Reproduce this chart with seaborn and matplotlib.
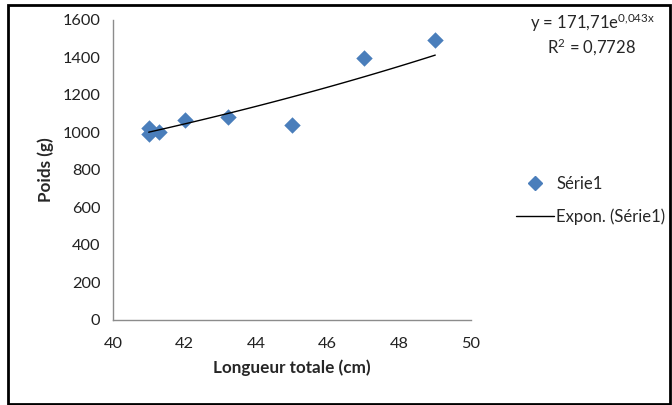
import numpy as np
import pandas as pd
import matplotlib
matplotlib.use("Agg")
import matplotlib.pyplot as plt
import seaborn as sns
from matplotlib.lines import Line2D
from matplotlib.patches import Rectangle

# Data
longueur = [41.0, 41.0, 41.3, 42.0, 43.2, 45.0, 47.0, 49.0]
poids = [1025, 990, 1000, 1065, 1080, 1040, 1395, 1495]
coef_a = 171.71
coef_b = 0.043
r2_text = "0,7728"
x_ticks = [40, 42, 44, 46, 48, 50]
y_ticks = [0, 200, 400, 600, 800, 1000, 1200, 1400, 1600]

sns.set_style("white")
plt.rcParams['font.family'] = ['Lato', 'DejaVu Sans']
plt.rcParams['mathtext.default'] = 'regular'

fig = plt.figure(figsize=(6.72, 4.05), dpi=100)
ax = fig.add_axes([0.168, 0.210, 0.533, 0.741])

df = pd.DataFrame({"Longueur": longueur, "Poids": poids})
sns.scatterplot(data=df, x="Longueur", y="Poids", marker="D", s=70,
                color="#4a7ebb", edgecolor="#4a7ebb", linewidth=0, ax=ax, zorder=3)

xt = np.linspace(min(longueur), max(longueur), 100)
yt = coef_a * np.exp(coef_b * xt)
sns.lineplot(x=xt, y=yt, color="black", linewidth=1.0, ax=ax, zorder=4)

ax.set_xlim(40, 50)
ax.set_ylim(0, 1600)
ax.set_xticks(x_ticks)
ax.set_yticks(y_ticks)
ax.tick_params(axis='both', length=0, labelsize=11.8, colors='#222222')
ax.tick_params(axis='x', pad=12)
ax.tick_params(axis='y', pad=9)
for s in ['top', 'right']:
    ax.spines[s].set_visible(False)
for s in ['left', 'bottom']:
    ax.spines[s].set_color('#8c8c8c')
    ax.spines[s].set_linewidth(1.0)
ax.set_xlabel("Longueur totale (cm)", fontsize=12.3, fontweight='bold', labelpad=6)
ax.set_ylabel("Poids (g)", fontsize=12.3, fontweight='bold', labelpad=6)

# Equation
fig.text(0.882, 0.943, r"y = 171,71e$^{0{,}043x}$", ha='center', va='center', fontsize=12)
fig.text(0.880, 0.883, r"R$^{2}$ = " + r2_text, ha='center', va='center', fontsize=12)

# Legend
handles = [Line2D([], [], marker='D', color='#4a7ebb', linestyle='None', markersize=7),
           Line2D([], [], color='black', linewidth=1.0)]
fig.legend(handles, ["Série1", "Expon. (Série1)"], loc='center left',
           bbox_to_anchor=(0.745, 0.505), frameon=False, fontsize=12,
           handlelength=2.3, handletextpad=0.15, labelspacing=1.0)

# Outer border
fig.patches.append(Rectangle((0.012, 0.003), 0.985, 0.985, transform=fig.transFigure,
                             fill=False, edgecolor='black', linewidth=2.0))

fig.savefig("out.png", dpi=100)
